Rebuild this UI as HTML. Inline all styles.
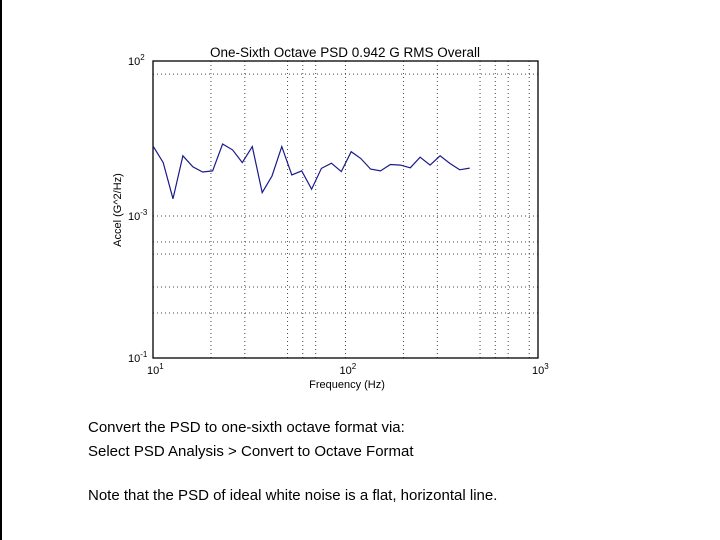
<!DOCTYPE html>
<html><head><meta charset="utf-8"><style>
body{margin:0;background:#fff;}
#wrap{position:relative;width:720px;height:540px;overflow:hidden;background:#fff;border-left:2px solid #000;box-sizing:border-box;}
.note{position:absolute;left:86px;font-family:"Liberation Sans",sans-serif;font-size:15px;color:#000;white-space:nowrap;}
svg text{font-family:"Liberation Sans",sans-serif;}
</style></head><body>
<div id="wrap">
<svg id="chart" width="720" height="400" style="position:absolute;left:-2px;top:0"></svg>
<div class="note" style="top:419px">Convert the PSD to one-sixth octave format via:</div>
<div class="note" style="top:443px">Select PSD Analysis &gt; Convert to Octave Format</div>
<div class="note" style="top:487px">Note that the PSD of ideal white noise is a flat, horizontal line.</div>
</div>
<script>
const freqs=[10,11.3,12.7,14.3,16.1,18.1,20.4,23.0,25.9,29.1,32.8,36.9,41.5,46.7,52.6,59.2,66.7,75.0,84.5,95.1,107,120,135,152,171,193,217,244,275,310,349,392,442];
const psd=[0.00268,0.00207,0.00118,0.00230,0.00194,0.00179,0.00182,0.00276,0.00252,0.00207,0.00265,0.00130,0.00168,0.00265,0.00171,0.00182,0.00137,0.00189,0.00205,0.00180,0.00245,0.00221,0.00187,0.00182,0.00201,0.00199,0.00191,0.00225,0.00199,0.00230,0.00204,0.00185,0.00190];
const xGrid=[20,30,50,60,70,100,200,300,500,600,700,900];
const yGridExp=[-2.088,-3.044,-3.219,-3.300,-3.522,-3.697];
const xTickLabels=["1","2","3"];
const yTickLabels=["2","-3","-1"];
const yTickExp=[-2,-3.044,-4];
const L=153,R=538,T=61,B=358;
const xs=f=>L+(Math.log10(f)-1)*(R-L)/2;
const ys=v=>B-(Math.log10(v)+4)*(B-T)/2;
const ysE=e=>B-(e+4)*(B-T)/2;
const svg=document.getElementById('chart');
const NS='http://www.w3.org/2000/svg';
function mk(t,a){const e=document.createElementNS(NS,t);for(const k in a)e.setAttribute(k,a[k]);svg.appendChild(e);return e;}
xGrid.forEach(f=>{const l=mk('line',{x1:xs(f),x2:xs(f),y1:T,y2:B,stroke:'#444','stroke-width':1,'stroke-dasharray':'1,3'});

});
yGridExp.forEach(e=>{const y=ysE(e);const l=mk('line',{x1:L,x2:R,y1:y,y2:y,stroke:'#444','stroke-width':1,'stroke-dasharray':'1,3'});

});
const frame=mk('rect',{x:L,y:T,width:R-L,height:B-T,fill:'none',stroke:'#000','stroke-width':1.3});


const pts=freqs.map((f,i)=>xs(f).toFixed(1)+','+ys(psd[i]).toFixed(1)).join(' ');
const line=mk('polyline',{points:pts,fill:'none',stroke:'#1a1a8c','stroke-width':1.2});


[10,100,1000].forEach((f,i)=>{const t=mk('text',{x:xs(f)-6,y:B+16,'font-size':11,fill:'#000'});t.textContent='10';
const s=document.createElementNS(NS,'tspan');s.setAttribute('dy','-5');s.setAttribute('font-size','8');s.textContent=xTickLabels[i];t.appendChild(s);

});
yTickExp.forEach((e,i)=>{const t=mk('text',{x:L-25,y:ysE(e)+4,'font-size':11,fill:'#000'});t.textContent='10';
const s=document.createElementNS(NS,'tspan');s.setAttribute('dy','-5');s.setAttribute('font-size','8');s.textContent=yTickLabels[i];t.appendChild(s);

});
const title=mk('text',{x:345,y:57,'font-size':13.5,'text-anchor':'middle',fill:'#000'});title.textContent='One-Sixth Octave PSD  0.942 G RMS Overall';


const xl=mk('text',{x:347,y:388,'font-size':11,'text-anchor':'middle',fill:'#000'});xl.textContent='Frequency (Hz)';


const yl=mk('text',{x:0,y:0,'font-size':11,'text-anchor':'middle',fill:'#000',transform:'translate(121,210) rotate(-90)'});yl.textContent='Accel (G^2/Hz)';


</script>
</body></html>
